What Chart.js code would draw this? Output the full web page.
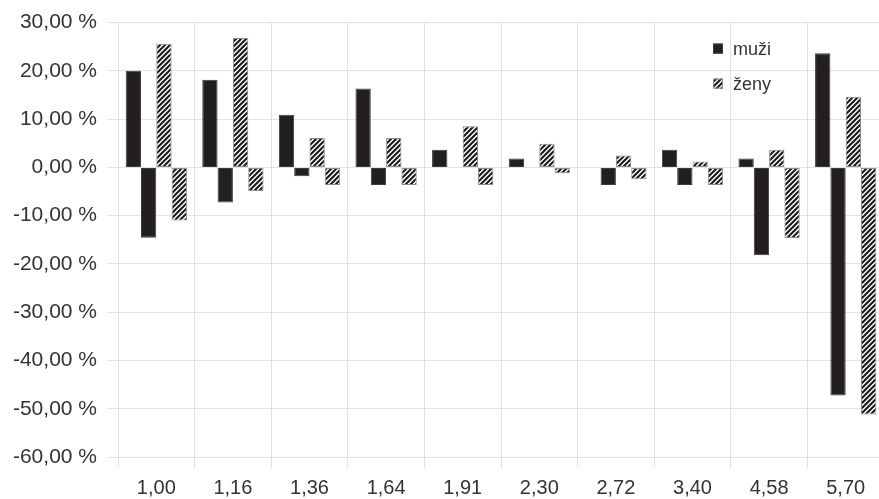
<!DOCTYPE html>
<html>
<head>
<meta charset="utf-8">
<script src="https://cdn.jsdelivr.net/npm/chart.js@4/dist/chart.umd.min.js"></script>
<style>
  html, body { margin: 0; padding: 0; background: #fff; overflow: hidden; }
  #wrap { position: relative; width: 884px; height: 499px; }
</style>
</head>
<body>
<div id="wrap"><canvas id="chart"></canvas></div>
<script>
// Categories along the x axis
const categories = ["1,00", "1,16", "1,36", "1,64", "1,91", "2,30", "2,72", "3,40", "4,58", "5,70"];

// Percent values per category (null = no bar)
const muziPlus  = [20.00, 18.18, 10.91, 16.36, 3.64, 1.82, null, 3.64, 1.82, 23.64];
const muziMinus = [-14.55, -7.27, -1.82, -3.64, null, null, -3.64, -3.64, -18.18, -47.27];
const zenyPlus  = [25.61, 26.83, 6.10, 6.10, 8.54, 4.88, 2.44, 1.22, 3.66, 14.63];
const zenyMinus = [-10.98, -4.88, -3.66, -3.66, -3.66, -1.22, -2.44, -3.66, -14.63, -51.22];

const legendLabels = ["muži", "ženy"];
const yTicks = { min: -60, max: 30, step: 10 };

const COLORS = {
  solid: "#231f20",
  solidBorder: "#3c3c3c",
  hatchBorder: "#8c8c8c",
  grid: "#e2e2e2",
  text: "#333333",
};
const FONT = "'Liberation Sans', Arial, sans-serif";

// diagonal hatch fill for the women series
function makeHatch() {
  const s = 5;
  const c = document.createElement("canvas");
  c.width = s;
  c.height = s;
  const g = c.getContext("2d");
  g.fillStyle = "#fff";
  g.fillRect(0, 0, s, s);
  g.strokeStyle = "#1a1a1a";
  g.lineWidth = 2.1;
  g.beginPath();
  g.moveTo(-1, s + 1); g.lineTo(s + 1, -1);
  g.moveTo(-1, 1); g.lineTo(1, -1);
  g.moveTo(s - 1, s + 1); g.lineTo(s + 1, s - 1);
  g.stroke();
  return g.createPattern(c, "repeat");
}
const hatch = makeHatch();

const solidStyle = { backgroundColor: COLORS.solid, borderColor: COLORS.solidBorder };
const hatchStyle = { backgroundColor: hatch, borderColor: COLORS.hatchBorder };

// legend drawn inside the plot, top right
const innerLegend = {
  id: "innerLegend",
  afterDraw(chart) {
    const { ctx, chartArea } = chart;
    const x = chartArea.left + 595;
    const y0 = chartArea.top + 26;
    const styles = [solidStyle, hatchStyle];
    ctx.save();
    ctx.font = "18px " + FONT;
    ctx.textBaseline = "middle";
    legendLabels.forEach((label, i) => {
      const y = y0 + i * 35;
      ctx.fillStyle = styles[i].backgroundColor;
      ctx.fillRect(x, y - 5, 10, 10);
      ctx.strokeStyle = styles[i].borderColor;
      ctx.lineWidth = 1;
      ctx.strokeRect(x + 0.5, y - 4.5, 9, 9);
      ctx.fillStyle = COLORS.text;
      ctx.fillText(label, x + 20, y + 1);
    });
    ctx.restore();
  },
};

const bar = (label, data, style) => ({
  label,
  data,
  ...style,
  borderWidth: 1,
  borderSkipped: false,
  categoryPercentage: 0.8,
  barPercentage: 1.0,
});

new Chart(document.getElementById("chart"), {
  type: "bar",
  data: {
    labels: categories,
    datasets: [
      bar(legendLabels[0], muziPlus, solidStyle),
      bar(legendLabels[0], muziMinus, solidStyle),
      bar(legendLabels[1], zenyPlus, hatchStyle),
      bar(legendLabels[1], zenyMinus, hatchStyle),
    ],
  },
  options: {
    responsive: true,
    maintainAspectRatio: false,
    animation: false,
    layout: { padding: { top: 22, left: 0, right: 0, bottom: 0 } },
    plugins: {
      legend: { display: false },
      tooltip: { enabled: false },
    },
    scales: {
      x: {
        grid: { color: COLORS.grid, offset: true, tickLength: 11 },
        border: { color: COLORS.grid },
        ticks: { color: COLORS.text, font: { family: FONT, size: 20 }, padding: 8, maxRotation: 0 },
        afterFit: (scale) => { scale.height = 42; },
      },
      y: {
        min: yTicks.min,
        max: yTicks.max,
        grid: { color: COLORS.grid, tickLength: 11 },
        border: { color: COLORS.grid },
        ticks: {
          stepSize: yTicks.step,
          color: COLORS.text,
          font: { family: FONT, size: 21 },
          padding: 10,
          callback: (v) => v.toFixed(2).replace(".", ",") + " %",
        },
        afterFit: (scale) => { scale.width = 118; },
      },
    },
  },
  plugins: [innerLegend],
});
</script>
</body>
</html>
